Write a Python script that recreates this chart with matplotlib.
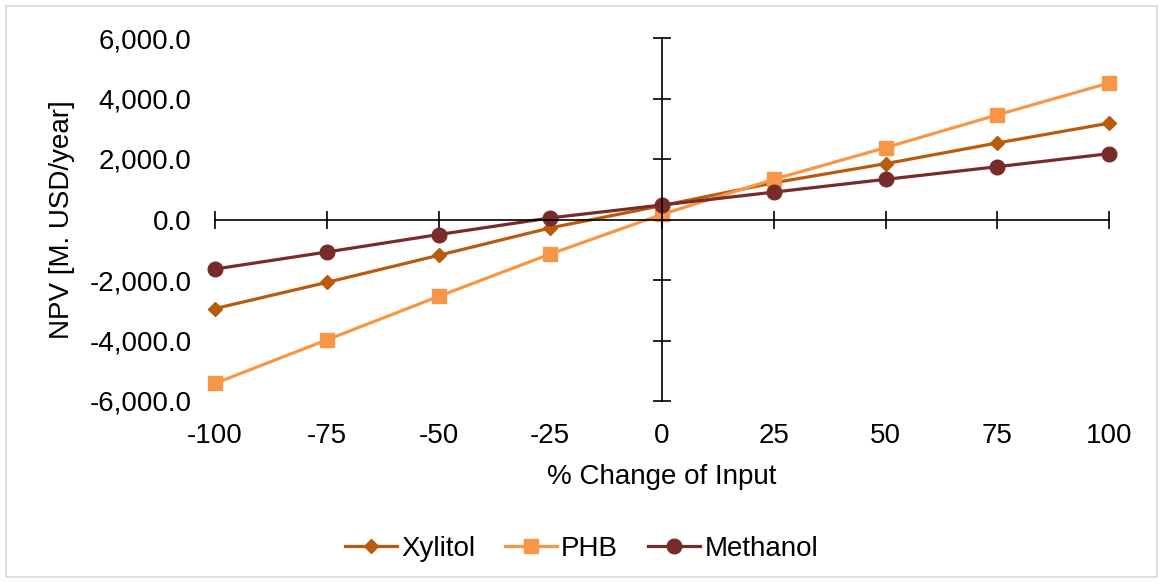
import matplotlib.pyplot as plt
from matplotlib.ticker import FuncFormatter, MultipleLocator
from matplotlib.patches import Rectangle

plt.rcParams['font.family'] = ['Liberation Sans', 'DejaVu Sans']

change = [-100, -75, -50, -25, 0, 25, 50, 75, 100]
xylitol = [-2945, -2080, -1185, -278, 460, 1214, 1845, 2530, 3184]
phb = [-5418, -3980, -2544, -1141, 170, 1327, 2375, 3459, 4511]
methanol = [-1638, -1075, -498, 53, 480, 905, 1327, 1745, 2176]

fig = plt.figure(figsize=(11.63, 5.83), dpi=100)
fig.patches.append(Rectangle((6 / 1163, 6 / 583), 1151 / 1163, 571 / 583,
                             transform=fig.transFigure, fill=False,
                             edgecolor='#D9D9D9', lw=1.2))

ax = fig.add_axes([215 / 1163, 1 - 401 / 583, 894 / 1163, 363 / 583])

ax.plot(change, xylitol, color='#B95A0C', lw=2.3, marker='D', ms=7,
        label='Xylitol', clip_on=False)
ax.plot(change, phb, color='#F79646', lw=2.3, marker='s', ms=9.5,
        label='PHB', clip_on=False)
ax.plot(change, methanol, color='#772C2A', lw=2.3, marker='o', ms=10.5,
        label='Methanol', clip_on=False)

ax.set_xlim(-100, 100)
ax.set_ylim(-6000, 6000)
ax.xaxis.set_major_locator(MultipleLocator(25))
ax.yaxis.set_major_locator(MultipleLocator(2000))

# axes cross at zero, labels stay at the edges
ax.spines['left'].set_position(('data', 0))
ax.spines['bottom'].set_position(('data', 0))
ax.spines['right'].set_visible(False)
ax.spines['top'].set_visible(False)
for s in ['left', 'bottom']:
    ax.spines[s].set_linewidth(1.2)
ax.tick_params(direction='inout', length=13, width=1.2,
               labelleft=False, labelbottom=False)

fmt = FuncFormatter(lambda v, p: '{:,.1f}'.format(v))

sy = ax.secondary_yaxis('left')
sy.spines['left'].set_visible(False)
sy.yaxis.set_major_locator(MultipleLocator(2000))
sy.yaxis.set_major_formatter(fmt)
sy.tick_params(length=0, pad=17, labelsize=20)
sy.set_ylabel('NPV [M. USD/year]', fontsize=20, labelpad=10)

sx = ax.secondary_xaxis('bottom')
sx.spines['bottom'].set_visible(False)
sx.xaxis.set_major_locator(MultipleLocator(25))
sx.xaxis.set_major_formatter(FuncFormatter(lambda v, p: '{:d}'.format(int(v))))
sx.tick_params(length=0, pad=16, labelsize=20)
sx.set_xlabel('% Change of Input', fontsize=20, labelpad=11)

fig.legend(loc='center', bbox_to_anchor=(0.5, 1 - 549 / 583), ncol=3,
           frameon=False, fontsize=20, handlelength=1.87, handletextpad=0.15,
           columnspacing=1.08)

fig.savefig('out.png', dpi=100)
